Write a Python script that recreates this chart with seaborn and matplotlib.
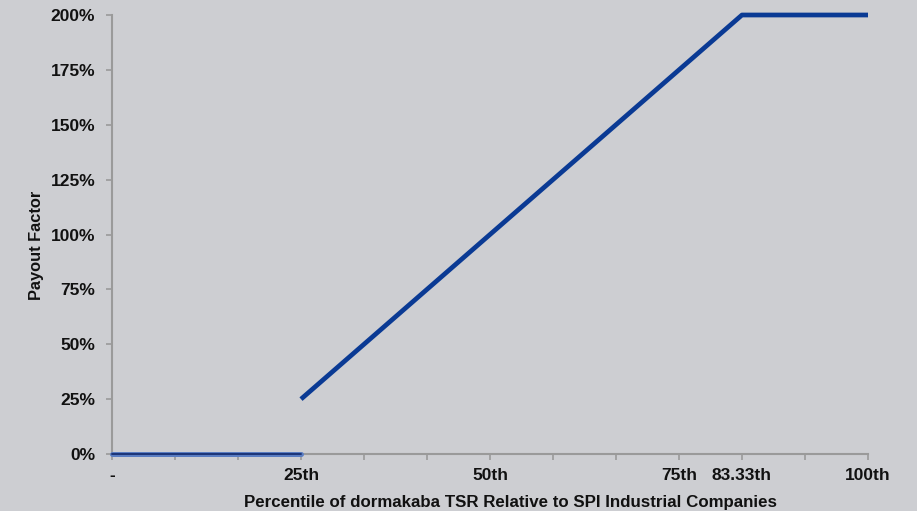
import numpy as np
import pandas as pd
import matplotlib
matplotlib.use("Agg")
import matplotlib.pyplot as plt
import seaborn as sns
from matplotlib.ticker import FuncFormatter

# Payout curve: percentile rank vs. payout factor
below_pct = [0, 25]
below_payout = [0.0, 0.0]
curve_pct = [25, 83.33, 100]
curve_payout = [0.25, 2.00, 2.00]

# Axis ticks
x_ticks = [0, 8.33, 16.67, 25, 33.33, 41.67, 50, 58.33, 66.67, 75, 83.33, 91.67, 100]
x_labels = {0: "-", 25: "25th", 50: "50th", 75: "75th", 83.33: "83.33th", 100: "100th"}
y_ticks = [0, 0.25, 0.5, 0.75, 1.0, 1.25, 1.5, 1.75, 2.0]

bg = "#cdced2"
navy = "#0a3a94"

sns.set_theme(style="white")
plt.rcParams["font.family"] = ["Liberation Sans", "DejaVu Sans"]
plt.rcParams["font.weight"] = "bold"

fig = plt.figure(figsize=(9.17, 5.11), dpi=100, facecolor=bg)
ax = fig.add_axes([112 / 917, 1 - 454 / 511, (868 - 112) / 917, (454 - 15) / 511])
ax.set_facecolor(bg)

df_below = pd.DataFrame({"pct": below_pct, "payout": below_payout})
df_curve = pd.DataFrame({"pct": curve_pct, "payout": curve_payout})

sns.lineplot(data=df_below, x="pct", y="payout", ax=ax, color="#5a7dc2",
             linewidth=3.6, clip_on=False, zorder=4)
sns.lineplot(data=df_below, x="pct", y="payout", ax=ax, color="#1c3577",
             linewidth=1.4, clip_on=False, zorder=5)
sns.lineplot(data=df_curve, x="pct", y="payout", ax=ax, color=navy,
             linewidth=3.4, clip_on=False, zorder=5, solid_capstyle="butt")

ax.set_xlim(0, 100)
ax.set_ylim(0, 2.0)
ax.set_xticks(x_ticks)
ax.set_xticklabels([x_labels.get(t, "") for t in x_ticks])
ax.set_yticks(y_ticks)
ax.yaxis.set_major_formatter(FuncFormatter(lambda v, p: f"{v * 100:.0f}%"))

for s in ["top", "right"]:
    ax.spines[s].set_visible(False)
for s in ["left", "bottom"]:
    ax.spines[s].set_color("#9a9a9a")
    ax.spines[s].set_linewidth(1.5)

ax.tick_params(axis="both", which="major", direction="out", length=4, width=1.2,
               color="#9a9a9a", labelsize=12.5, labelcolor="#111111",
               bottom=True, left=True)
ax.tick_params(axis="x", pad=6)
ax.tick_params(axis="y", pad=8)
for lbl in ax.get_xticklabels() + ax.get_yticklabels():
    lbl.set_fontweight("bold")

ax.set_xlabel("Percentile of dormakaba TSR Relative to SPI Industrial Companies",
              fontsize=12.2, fontweight="bold", color="#111111")
ax.xaxis.set_label_coords(0.5265, -0.093)
ax.set_ylabel("Payout Factor", fontsize=11.8, fontweight="bold", color="#111111")
ax.yaxis.set_label_coords(-0.09, 0.476)

fig.savefig("out.png", dpi=100, facecolor=bg)
